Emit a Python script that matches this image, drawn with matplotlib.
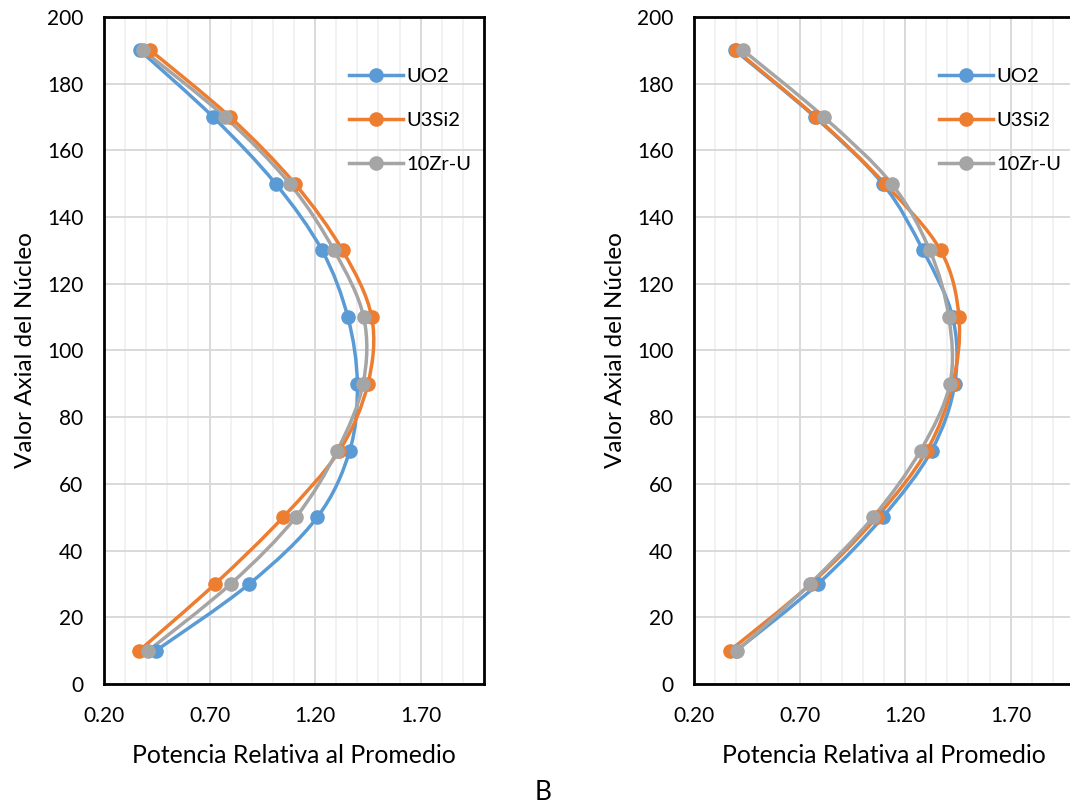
#!/usr/bin/env python
import numpy as np
import matplotlib
matplotlib.use('Agg')
import matplotlib.pyplot as plt
from matplotlib.path import Path
from matplotlib.patches import PathPatch
from matplotlib.ticker import MultipleLocator

plt.rcParams['font.family'] = ['Lato', 'DejaVu Sans']

# axial positions (y)
axial = [190, 170, 150, 130, 110, 90, 70, 50, 30, 10]

# left panel
left_uo2 = [0.37, 0.717, 1.013, 1.233, 1.355, 1.40, 1.364, 1.21, 0.888, 0.446]
left_u3si2 = [0.42, 0.797, 1.104, 1.33, 1.468, 1.45, 1.315, 1.048, 0.726, 0.367]
left_zru = [0.385, 0.773, 1.08, 1.29, 1.43, 1.427, 1.305, 1.108, 0.80, 0.41]

# right panel
right_uo2 = [0.394, 0.773, 1.094, 1.285, 1.425, 1.435, 1.325, 1.093, 0.787, 0.40]
right_u3si2 = [0.40, 0.777, 1.104, 1.368, 1.455, 1.425, 1.303, 1.065, 0.753, 0.37]
right_zru = [0.433, 0.815, 1.136, 1.317, 1.407, 1.412, 1.273, 1.048, 0.749, 0.404]

names = ['UO2', 'U3Si2', '10Zr-U']
colors = ['#5B9BD5', '#ED7D31', '#A5A5A5']


def smooth_path(x, y):
	# excel-like smoothed line: cubic bezier through the points
	p = np.column_stack([x, y]).astype(float)
	n = len(p)
	verts = [p[0]]
	codes = [Path.MOVETO]
	for i in range(n - 1):
		p0 = p[i - 1] if i > 0 else p[i]
		p1 = p[i]
		p2 = p[i + 1]
		p3 = p[i + 2] if i + 2 < n else p[i + 1]
		c1 = p1 + (p2 - p0) / 6.0
		c2 = p2 - (p3 - p1) / 6.0
		verts += [c1, c2, p2]
		codes += [Path.CURVE4] * 3
	return Path(verts, codes)


def make_panel(ax, series):
	ax.set_xlim(0.2, 2.0)
	ax.set_ylim(0, 200)
	ax.xaxis.set_minor_locator(MultipleLocator(0.1))
	ax.yaxis.set_major_locator(MultipleLocator(20))
	ax.set_xticks([0.2, 0.7, 1.2, 1.7])
	ax.set_xticklabels(['0.20', '0.70', '1.20', '1.70'])
	ax.grid(which='minor', axis='x', color='#f0f0f0', linewidth=1.2)
	ax.grid(which='major', axis='both', color='#d9d9d9', linewidth=1.4)
	ax.set_axisbelow(True)
	ax.tick_params(which='both', length=0, labelsize=15, colors='black')
	ax.tick_params(axis='x', pad=16)
	ax.tick_params(axis='y', pad=15)
	for s in ax.spines.values():
		s.set_linewidth(2.0)
		s.set_color('black')
	for xs, name, c in zip(series, names, colors):
		ax.add_patch(PathPatch(smooth_path(xs, axial), facecolor='none', edgecolor=c, linewidth=2.5, zorder=3))
		ax.plot(xs, axial, linestyle='none', marker='o', markersize=9.5, color=c, zorder=4)
		ax.plot([], [], color=c, linewidth=2.5, marker='o', markersize=9.5, label=name)
	ax.set_xlabel('Potencia Relativa al Promedio', fontsize=17.8, labelpad=13)
	ax.set_ylabel('Valor Axial del Núcleo', fontsize=17.5, labelpad=8)
	ax.legend(loc='upper left', bbox_to_anchor=(0.603, 0.948), frameon=False, fontsize=14.5,
		handlelength=2.65, handletextpad=0.2, labelspacing=1.33, borderpad=0.3)


fig = plt.figure(figsize=(10.70, 8.05), dpi=100)
ax1 = fig.add_axes([104/1070., 121/805., 380/1070., 667/805.])
ax2 = fig.add_axes([694/1070., 121/805., 380/1070., 667/805.])

make_panel(ax1, [left_uo2, left_u3si2, left_zru])
make_panel(ax2, [right_uo2, right_u3si2, right_zru])

fig.text(543/1070., 1 - 792/805., 'B', fontsize=19, ha='center', va='center')

plt.savefig('out.png', dpi=100)
